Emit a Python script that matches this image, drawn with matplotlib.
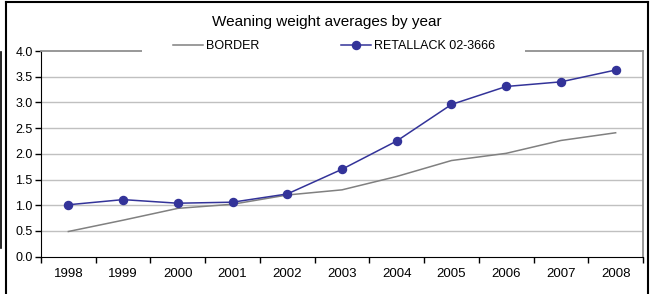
import matplotlib
matplotlib.use("Agg")
import matplotlib.pyplot as plt
from matplotlib.lines import Line2D
from matplotlib.patches import Rectangle
from matplotlib.font_manager import fontManager

years = ["1998", "1999", "2000", "2001", "2002", "2003", "2004", "2005", "2006", "2007", "2008"]
border = [0.49, 0.71, 0.94, 1.02, 1.20, 1.30, 1.56, 1.87, 2.01, 2.26, 2.41]
retallack = [1.01, 1.11, 1.04, 1.06, 1.22, 1.70, 2.25, 2.96, 3.31, 3.40, 3.63]

names = {f.name for f in fontManager.ttflist}
FONT = "Liberation Sans Narrow" if "Liberation Sans Narrow" in names else "Liberation Sans"
plt.rcParams["font.family"] = [FONT, "DejaVu Sans"]

fig = plt.figure(figsize=(6.52, 2.94), dpi=100)
ax = fig.add_axes([41 / 652, 1 - 256.7 / 294, 602 / 652, 205.7 / 294])

x = list(range(len(years)))
ax.plot(x, border, color="#808080", lw=1.1, label="BORDER")
ax.plot(x, retallack, color="#333399", lw=1.1, marker="o", ms=5.8, label="RETALLACK 02-3666")

ax.set_xlim(-0.5, len(years) - 0.5)
ax.set_ylim(0, 4.0)
ax.set_yticks([0, 0.5, 1.0, 1.5, 2.0, 2.5, 3.0, 3.5, 4.0])
ax.set_yticklabels([f"{v:.1f}" for v in ax.get_yticks()], fontsize=9)
ax.set_xticks([i - 0.5 for i in range(len(years) + 1)])
ax.set_xticklabels([])
ax.set_xticks(x, minor=True)
ax.set_xticklabels(years, minor=True, fontsize=9.5)
ax.tick_params(axis="x", which="major", length=4, width=1, direction="out", color="black")
ax.tick_params(axis="x", which="minor", length=0, pad=8)
ax.tick_params(axis="y", length=4, width=1, direction="out", color="black", pad=2)

for v in [0.5, 1.0, 1.5, 2.0, 2.5, 3.0, 3.5]:
    ax.axhline(v, color="#c0c0c0", lw=1.0, zorder=0)

ax.spines["left"].set_color("black")
ax.spines["bottom"].set_color("black")
ax.spines["top"].set_color("#909090")
ax.spines["right"].set_color("#909090")
ax.spines["top"].set_linewidth(1.3)
ax.spines["right"].set_linewidth(1.3)

# white legend area covering the top border
fig.add_artist(Rectangle((142 / 652, 1 - 58 / 294), 383 / 652, 20 / 294,
                         transform=fig.transFigure, facecolor="white", edgecolor="none", zorder=4))

leg = fig.legend(loc="center", bbox_to_anchor=(334 / 652, 1 - 46 / 294), ncol=2,
                 frameon=False, fontsize=9, handlelength=2.4, columnspacing=6.5,
                 borderpad=0.2, handletextpad=0.25)
leg.set_zorder(5)

fig.text(0.502, 1 - 22 / 294, "Weaning weight averages by year", ha="center", va="center", fontsize=11)

# outer frame lines
fig.add_artist(Line2D([6 / 652, 6 / 652], [0, 1 - 2 / 294], color="black", lw=1.5))
fig.add_artist(Line2D([6 / 652, 648 / 652], [1 - 2 / 294, 1 - 2 / 294], color="black", lw=1.5))
fig.add_artist(Line2D([648 / 652, 648 / 652], [0, 1 - 2 / 294], color="black", lw=1.5))
fig.add_artist(Line2D([0.5 / 652, 0.5 / 652], [1 - 248 / 294, 1 - 52 / 294], color="black", lw=1.2))

fig.savefig("out.png", dpi=100)
